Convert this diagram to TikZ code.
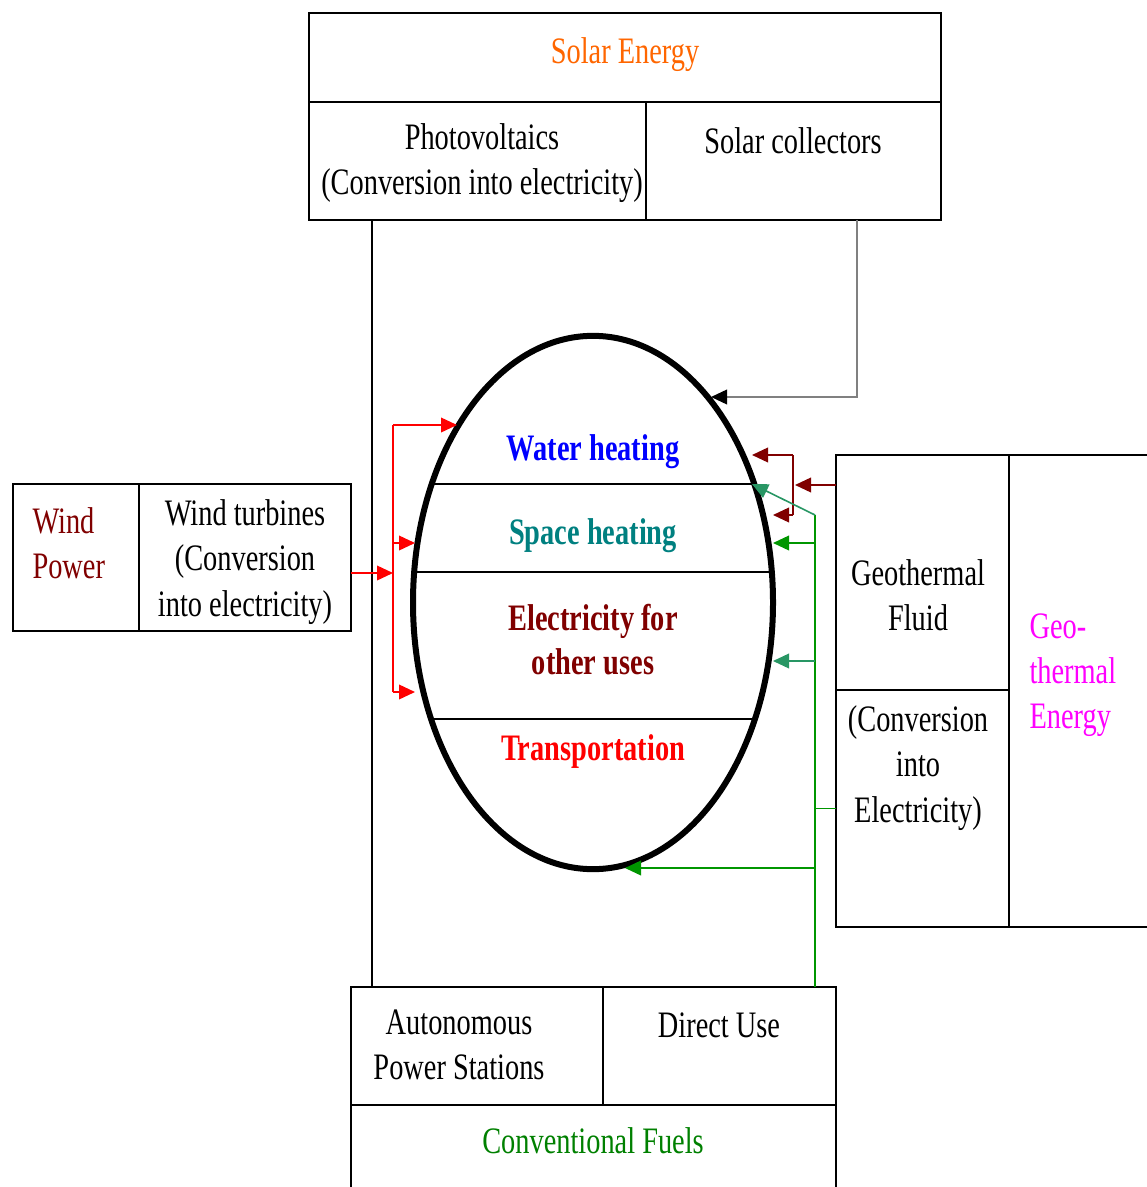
\documentclass[tikz,border=0pt]{standalone}
\usepackage{fontspec}
\setmainfont[FakeStretch=0.76]{Liberation Serif}
\usetikzlibrary{shapes.geometric,arrows.meta}

\definecolor{solarorange}{RGB}{255,102,0}
\definecolor{darkmaroon}{RGB}{128,0,0}
\definecolor{waterblue}{RGB}{0,0,255}
\definecolor{spaceteal}{RGB}{0,128,128}
\definecolor{geomagenta}{RGB}{255,0,255}
\definecolor{fuelgreen}{RGB}{0,128,0}
\definecolor{linkgreen}{RGB}{0,150,0}
\definecolor{linksea}{RGB}{40,150,100}
\definecolor{linkgray}{RGB}{128,128,128}

\tikzset{every picture/.style={line width=0.75pt},
  cell/.style n args={2}{draw, line width=1.5pt, minimum width=#1*0.75pt, minimum height=#2*0.75pt, inner sep=0pt, outer sep=0pt},
  txt/.style={inner sep=0.75pt, font=\fontsize{28}{34}\selectfont, align=center},
  usetxt/.style={txt, font=\fontsize{28}{33}\selectfont\bfseries},
  link/.style={line width=1.2pt},
  arrowin/.style={link, -{Triangle[length=12pt,width=11pt]}},
}

\begin{document}
\begin{tikzpicture}[x=0.75pt,y=0.75pt,yscale=-1,xscale=1]
\useasboundingbox (0,0) rectangle (1146,1187);

%Shape: Rectangle [solar] 
\node [cell={632}{89}] (solar) at (625,57.5) {};
\node [cell={337}{118}] (pv) at (477.5,161) {};
\node [cell={295}{118}] (sc) at (793.5,161) {};
%Shape: Rectangle [wind] 
\node [cell={126}{147}] (windp) at (76,557.5) {};
\node [cell={212}{147}] (windt) at (245,557.5) {};
%Shape: Rectangle [geothermal] 
\node [cell={173}{235}] (geof) at (922.5,572.5) {};
\node [cell={173}{237}] (geoc) at (922.5,808.5) {};
\node [cell={180}{472}] (geoe) at (1099,691) {};
%Shape: Rectangle [fuels] 
\node [cell={252}{118}] (auto) at (477,1046) {};
\node [cell={233}{118}] (direct) at (719.5,1046) {};
\node [cell={485}{110}] (fuels) at (593.5,1160) {};

%Straight Lines [ellipse rows] 
\begin{scope}
\clip (593,602.5) ellipse [x radius=180, y radius=266.5];
\draw [line width=1.5pt] (400,484) -- (790,484);
\draw [line width=1.5pt] (400,572) -- (790,572);
\draw [line width=1.5pt] (400,719) -- (790,719);
\end{scope}
%Shape: Ellipse [uses] 
\node [draw, ellipse, line width=4.5pt, minimum width=270pt, minimum height=400pt, inner sep=0pt] (uses) at (593,602.5) {};

% Arrow ends
\coordinate (scin) at (711,397);
\coordinate (wjoin) at (393,573);
\coordinate (wtop) at (393,425);
\coordinate (wbot) at (393,692);
\coordinate (win1) at (457,425);
\coordinate (win2) at (415,543);
\coordinate (win3) at (415,692);
\coordinate (gjoin) at (795,485);
\coordinate (btop) at (793,455);
\coordinate (bbot) at (793,515);
\coordinate (bin1) at (752,455);
\coordinate (bin2) at (773,515);
\coordinate (ftop) at (815,515);
\coordinate (fin1) at (752,484);
\coordinate (fin2) at (773,543);
\coordinate (fin3) at (773,661);
\coordinate (fin4) at (625,868);

%Straight Lines [solar] 
\draw [link] (372,0 |- pv.south) -- (372,0 |- auto.north);
\draw [arrowin, linkgray, -{Triangle[length=12pt,width=11pt,color=black]}] (857,0 |- sc.south) |- (scin);
%Straight Lines [wind] 
\draw [arrowin, red] (windt.east |- wjoin) -- (wjoin);
\draw [link, red] (wtop) -- (wbot);
\draw [arrowin, red] (wtop) -- (win1);
\draw [arrowin, red] (wtop |- win2) -- (win2);
\draw [arrowin, red] (wbot) -- (win3);
%Straight Lines [geothermal] 
\draw [arrowin, darkmaroon] (geof.west |- gjoin) -- (gjoin);
\draw [link, darkmaroon] (btop) -- (bbot);
\draw [arrowin, darkmaroon] (btop) -- (bin1);
\draw [arrowin, darkmaroon] (bbot) -- (bin2);
%Straight Lines [fuels] 
\draw [link, linkgreen] (ftop) -- (ftop |- direct.north);
\draw [arrowin, linksea] (ftop) -- (fin1);
\draw [arrowin, linkgreen] (ftop |- fin2) -- (fin2);
\draw [arrowin, linksea] (ftop |- fin3) -- (fin3);
\draw [link, linkgreen] (geoc.west) -- (geoc.west -| ftop);
\draw [arrowin, linkgreen] (ftop |- fin4) -- (fin4);

% Text Node
\draw (625,55) node [txt, text=solarorange] (solart) {Solar Energy};
% Text Node
\draw (482,163) node [txt] (pvt) {Photovoltaics\\(Conversion into electricity)};
% Text Node
\draw (793,141) node [txt] (sct) {Solar collectors};
% Text Node
\draw (31,543) node [txt, anchor=west, align=left, text=darkmaroon] (windpt) {Wind\\Power};
% Text Node
\draw (245,562) node [txt] (windtt) {Wind turbines\\(Conversion\\into electricity)};
% Text Node
\draw (918,595) node [txt] (geoft) {Geothermal\\Fluid};
% Text Node
\draw (918,768) node [txt] (geoct) {(Conversion\\into\\Electricity)};
% Text Node
\draw (1028,675) node [txt, anchor=west, align=left, text=geomagenta] (geoet) {Geo-\\thermal\\Energy};
% Text Node
\draw (593,452) node [usetxt, text=waterblue] (watert) {Water heating};
% Text Node
\draw (593,536) node [usetxt, text=spaceteal] (spacet) {Space heating};
% Text Node
\draw (593,640) node [usetxt, text=darkmaroon] (elect) {Electricity for\\other uses};
% Text Node
\draw (593,752) node [usetxt, text=red] (transt) {Transportation};
% Text Node
\draw (459,1045) node [txt] (autot) {Autonomous\\Power Stations};
% Text Node
\draw (719,1025) node [txt] (directt) {Direct Use};
% Text Node
\draw (593,1141) node [txt, text=fuelgreen] (fuelst) {Conventional Fuels};

\end{tikzpicture}
\end{document}
